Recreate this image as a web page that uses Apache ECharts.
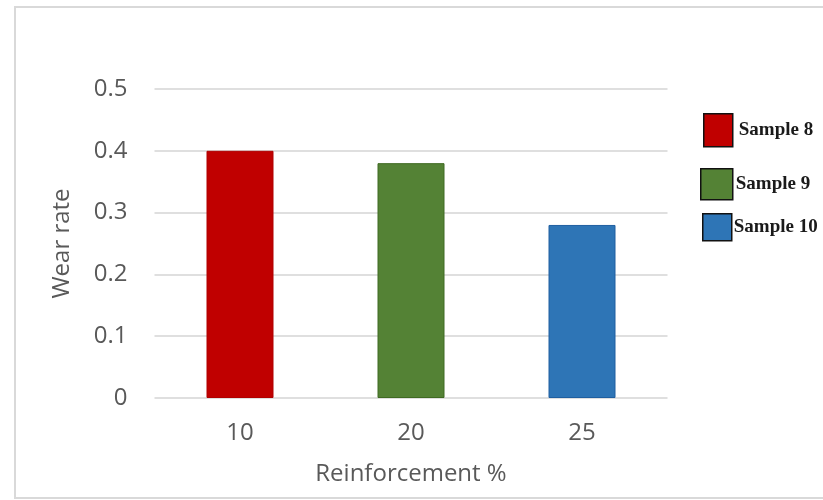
<!DOCTYPE html>
<html>
<head>
<meta charset="utf-8">
<style>
  html, body { margin: 0; padding: 0; background: #ffffff; }
  #chart { width: 823px; height: 500px; }
</style>
<script src="https://cdn.jsdelivr.net/npm/echarts@6/dist/echarts.min.js"></script>
</head>
<body>
<div id="chart"></div>
<script>
// Reinforcement levels on the x axis
const categories = ['10', '20', '25'];
// Wear rate of each sample, one sample per reinforcement level
const sampleNames = ['Sample 8', 'Sample 9', 'Sample 10'];
const sample8 = [0.40, null, null];
const sample9 = [null, 0.38, null];
const sample10 = [null, null, 0.28];
const yTicks = [0, 0.1, 0.2, 0.3, 0.4, 0.5];

const fills = ['#c00000', '#548235', '#2e75b6'];
const edges = ['#b00000', '#3f6a22', '#1f5fa0'];
const seriesData = [sample8, sample9, sample10];

const chart = echarts.init(document.getElementById('chart'), null, { renderer: 'canvas' });

const axisFont = { fontFamily: 'Open Sans', color: '#595959' };

// One legend block per sample so each swatch sits where it belongs
const legendBoxes = [
  { left: 703, top: 113, w: 29, h: 33, pad: 1 },
  { left: 700, top: 168, w: 32, h: 31, pad: -2 },
  { left: 702, top: 213, w: 29, h: 27, pad: -3 }
];
const legends = sampleNames.map((name, i) => ({
  data: [name],
  left: legendBoxes[i].left,
  top: legendBoxes[i].top,
  padding: 0,
  orient: 'vertical',
  icon: 'rect',
  itemWidth: legendBoxes[i].w,
  itemHeight: legendBoxes[i].h,
  selectedMode: false,
  itemStyle: { borderColor: '#111', borderWidth: 1.5 },
  textStyle: {
    fontFamily: 'Liberation Serif',
    fontWeight: 'bold',
    fontSize: 19,
    color: '#1a1a1a',
    padding: [0, 0, 0, legendBoxes[i].pad]
  }
}));

chart.setOption({
  animation: false,
  backgroundColor: '#ffffff',
  graphic: [{
    type: 'rect',
    shape: { x: 15, y: 7, width: 900, height: 491 },
    style: { fill: 'none', stroke: '#d9d9d9', lineWidth: 2 },
    z: -1
  }],
  legend: legends,
  grid: { left: 154.5, right: 155.5, top: 89, bottom: 102 },
  xAxis: {
    type: 'category',
    data: categories,
    name: 'Reinforcement %',
    nameLocation: 'middle',
    nameGap: 64,
    nameTextStyle: Object.assign({ fontSize: 24 }, axisFont),
    axisLine: { show: false },
    axisTick: { show: false },
    axisLabel: Object.assign({ fontSize: 24, margin: 23 }, axisFont)
  },
  yAxis: {
    type: 'value',
    min: yTicks[0],
    max: yTicks[yTicks.length - 1],
    interval: 0.1,
    name: 'Wear rate',
    nameLocation: 'middle',
    nameGap: 80,
    nameTextStyle: Object.assign({ fontSize: 24 }, axisFont),
    axisLine: { show: false },
    axisTick: { show: false },
    axisLabel: Object.assign({ fontSize: 24, margin: 27 }, axisFont),
    splitLine: { lineStyle: { color: '#d4d4d4', width: 1.5 } }
  },
  series: sampleNames.map((name, i) => ({
    name: name,
    type: 'bar',
    stack: 'all',
    barWidth: 67,
    data: seriesData[i],
    itemStyle: { color: fills[i], borderColor: edges[i], borderWidth: 1 }
  }))
});
</script>
</body>
</html>
